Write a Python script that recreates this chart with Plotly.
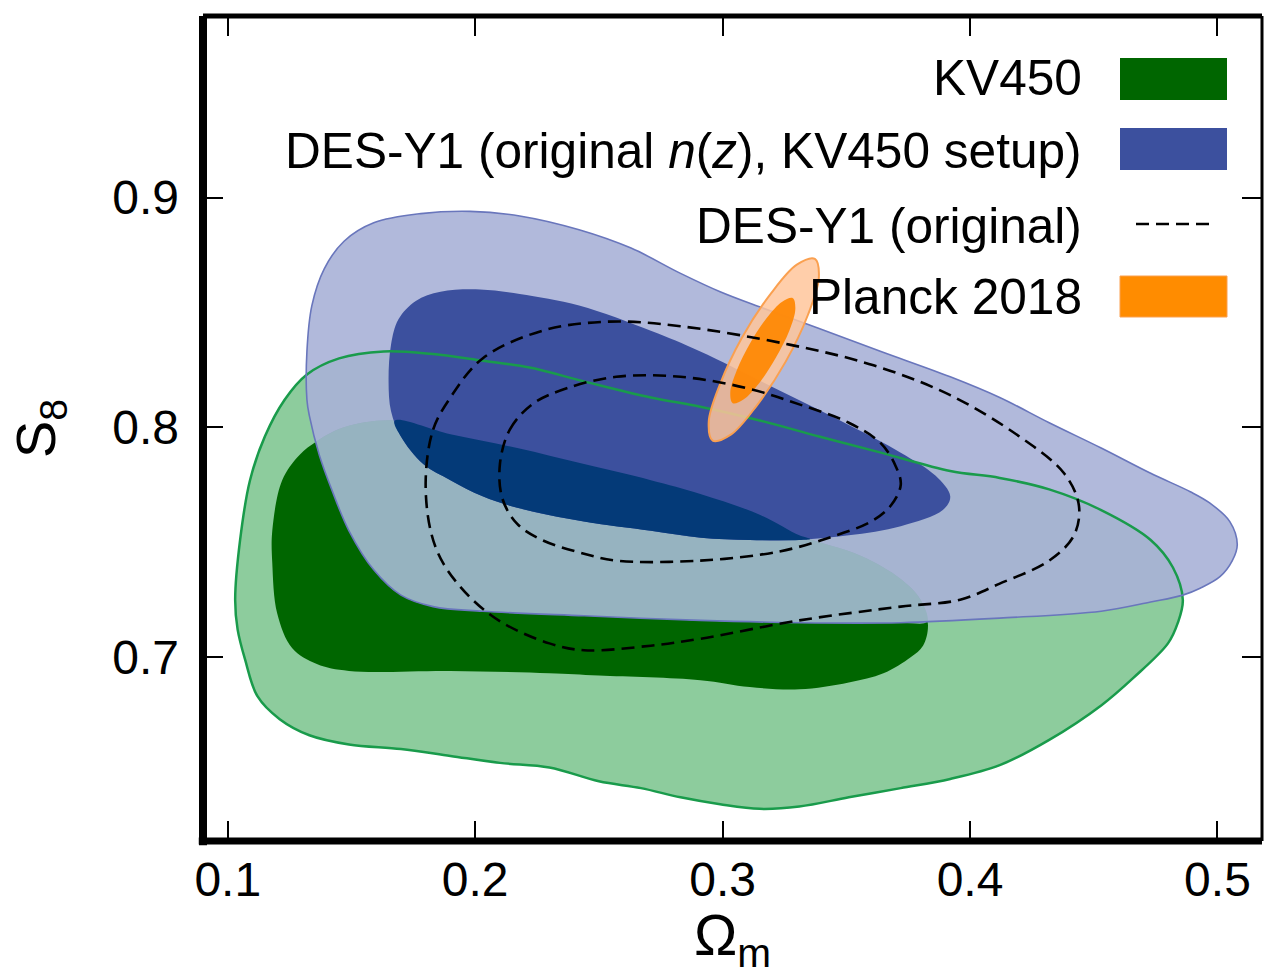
import plotly.graph_objects as go

# ---------------- data ----------------
X_RANGE = [0.09, 0.518]
Y_RANGE = [0.62, 0.979]
x_ticks = [0.1, 0.2, 0.3, 0.4, 0.5]
x_ticktext = ["0.1", "0.2", "0.3", "0.4", "0.5"]
y_ticks = [0.7, 0.8, 0.9]
y_ticktext = ["0.7", "0.8", "0.9"]

legend_labels = ["KV450",
                 "DES-Y1 (original <i>n</i>(<i>z</i>), KV450 setup)",
                 "DES-Y1 (original)",
                 "Planck 2018"]

# KV450 95% contour
kv_outer_x = [0.103, 0.105, 0.109, 0.115, 0.123, 0.132, 0.145, 0.163, 0.182, 0.203,
              0.222, 0.244, 0.271, 0.291, 0.315, 0.339, 0.364, 0.392, 0.412, 0.432,
              0.453, 0.473, 0.482, 0.486, 0.484, 0.480, 0.466, 0.453, 0.432, 0.412,
              0.392, 0.372, 0.351, 0.331, 0.315, 0.299, 0.283, 0.267, 0.250, 0.230,
              0.210, 0.190, 0.170, 0.149, 0.133, 0.121, 0.112, 0.107, 0.104]
kv_outer_y = [0.725, 0.751, 0.777, 0.796, 0.812, 0.823, 0.830, 0.833, 0.832, 0.829,
              0.826, 0.820, 0.813, 0.809, 0.803, 0.796, 0.789, 0.781, 0.778, 0.773,
              0.764, 0.751, 0.739, 0.725, 0.715, 0.706, 0.691, 0.679, 0.664, 0.653,
              0.647, 0.643, 0.639, 0.635, 0.634, 0.636, 0.639, 0.643, 0.646, 0.652,
              0.654, 0.657, 0.660, 0.662, 0.666, 0.673, 0.683, 0.699, 0.712]
# KV450 68% contour
kv_inner_x = [0.122, 0.129, 0.136, 0.147, 0.167, 0.190, 0.217, 0.244, 0.271, 0.291,
              0.315, 0.331, 0.356, 0.372, 0.380, 0.383, 0.381, 0.376, 0.365, 0.351,
              0.331, 0.311, 0.291, 0.250, 0.230, 0.190, 0.149, 0.136, 0.126, 0.120,
              0.118, 0.118]
kv_inner_y = [0.777, 0.788, 0.794, 0.800, 0.803, 0.797, 0.791, 0.784, 0.777, 0.771,
              0.762, 0.753, 0.744, 0.734, 0.725, 0.714, 0.705, 0.700, 0.693, 0.689,
              0.686, 0.687, 0.690, 0.692, 0.693, 0.694, 0.694, 0.697, 0.704, 0.719,
              0.741, 0.755]
# DES-Y1 (original n(z), KV450 setup) 95% contour
des_outer_x = [0.132, 0.132, 0.134, 0.139, 0.147, 0.159, 0.178, 0.198, 0.218, 0.242,
               0.263, 0.283, 0.299, 0.316, 0.339, 0.364, 0.392, 0.412, 0.432, 0.453,
               0.473, 0.489, 0.497, 0.505, 0.508, 0.506, 0.501, 0.493, 0.486, 0.473,
               0.453, 0.412, 0.372, 0.331, 0.291, 0.244, 0.203, 0.183, 0.170, 0.159,
               0.149, 0.142, 0.137, 0.133]
des_outer_y = [0.812, 0.833, 0.853, 0.869, 0.881, 0.889, 0.893, 0.894, 0.892, 0.886,
               0.878, 0.867, 0.859, 0.852, 0.843, 0.833, 0.822, 0.813, 0.802, 0.791,
               0.780, 0.772, 0.767, 0.759, 0.749, 0.742, 0.735, 0.730, 0.727, 0.724,
               0.720, 0.717, 0.715, 0.715, 0.716, 0.718, 0.720, 0.722, 0.727, 0.738,
               0.755, 0.773, 0.788, 0.805]
# DES-Y1 (original n(z), KV450 setup) 68% contour
des_inner_x = [0.165, 0.166, 0.169, 0.176, 0.186, 0.202, 0.218, 0.242, 0.271, 0.291,
               0.323, 0.351, 0.372, 0.386, 0.392, 0.389, 0.372, 0.351, 0.331, 0.311,
               0.291, 0.271, 0.244, 0.217, 0.203, 0.190, 0.179, 0.170, 0.166]
des_inner_y = [0.820, 0.836, 0.847, 0.855, 0.859, 0.860, 0.858, 0.853, 0.842, 0.833,
               0.816, 0.801, 0.789, 0.779, 0.770, 0.764, 0.757, 0.753, 0.751, 0.751,
               0.752, 0.755, 0.759, 0.765, 0.770, 0.777, 0.784, 0.796, 0.807]
# DES-Y1 (original) dashed contours
desorig_outer_x = [0.180, 0.183, 0.190, 0.203, 0.227, 0.254, 0.283, 0.327, 0.361, 0.392,
                   0.420, 0.438, 0.444, 0.442, 0.432, 0.412, 0.396, 0.372, 0.331, 0.291,
                   0.271, 0.244, 0.230, 0.211, 0.198, 0.187, 0.182]
desorig_outer_y = [0.777, 0.799, 0.813, 0.830, 0.842, 0.846, 0.844, 0.836, 0.827, 0.814,
                   0.796, 0.780, 0.766, 0.753, 0.742, 0.732, 0.725, 0.722, 0.716, 0.708,
                   0.705, 0.703, 0.706, 0.715, 0.726, 0.741, 0.755]
desorig_inner_x = [0.210, 0.214, 0.223, 0.237, 0.257, 0.283, 0.310, 0.331, 0.351, 0.364,
                   0.370, 0.372, 0.368, 0.360, 0.343, 0.323, 0.291, 0.257, 0.244, 0.227,
                   0.217, 0.211]
desorig_inner_y = [0.784, 0.799, 0.810, 0.817, 0.822, 0.822, 0.817, 0.810, 0.802, 0.793,
                   0.783, 0.775, 0.766, 0.759, 0.752, 0.746, 0.742, 0.742, 0.745, 0.751,
                   0.758, 0.769]
# Planck 2018 contours
planck_outer_x = [0.3373, 0.3389, 0.3345, 0.3255, 0.3138, 0.3033, 0.2960, 0.2944, 0.2989, 0.3078, 0.3195, 0.3300]
planck_outer_y = [0.8733, 0.8651, 0.8490, 0.8286, 0.8095, 0.7968, 0.7942, 0.8025, 0.8186, 0.8390, 0.8582, 0.8708]
planck_inner_x = [0.3284, 0.3294, 0.3270, 0.3215, 0.3146, 0.3084, 0.3041, 0.3031, 0.3057, 0.3110, 0.3179, 0.3241]
planck_inner_y = [0.8562, 0.8516, 0.8421, 0.8303, 0.8190, 0.8121, 0.8105, 0.8151, 0.8247, 0.8364, 0.8477, 0.8547]

# ---------------- styles ----------------
C_KV_LIGHT = "rgb(141,204,157)"
C_KV_EDGE = "rgb(25,155,75)"
C_KV_DARK = "rgb(0,102,0)"
C_DES_LIGHT = "rgba(168,177,215,0.9)"
C_DES_ON_KV = "rgb(150,179,192)"
C_DES_EDGE = "rgb(105,118,188)"
C_DES_DARK = "rgb(60,80,158)"
C_OVERLAP = "rgb(4,58,120)"
C_PL_LIGHT = "rgba(255,198,155,0.85)"
C_PL_EDGE = "rgb(250,160,80)"
C_PL_DARK = "rgba(255,135,0,0.92)"
FONT = "Liberation Sans, Arial, sans-serif"


def closed(xs, ys):
    return list(xs) + [xs[0]], list(ys) + [ys[0]]


def clip_convex(sx, sy, cx, cy):
    """Sutherland-Hodgman clip of polygon (sx,sy) by convex polygon (cx,cy)."""
    clip = list(zip(cx, cy))
    area = sum(a[0] * b[1] - b[0] * a[1] for a, b in zip(clip, clip[1:] + clip[:1]))
    sgn = 1.0 if area > 0 else -1.0

    def inside(p, a, b):
        return sgn * ((b[0] - a[0]) * (p[1] - a[1]) - (b[1] - a[1]) * (p[0] - a[0])) >= 0

    def inter(p, q, a, b):
        x1, y1 = p
        x2, y2 = q
        x3, y3 = a
        x4, y4 = b
        den = (x1 - x2) * (y3 - y4) - (y1 - y2) * (x3 - x4)
        t = ((x1 - x3) * (y3 - y4) - (y1 - y3) * (x3 - x4)) / den
        return (x1 + t * (x2 - x1), y1 + t * (y2 - y1))

    out = list(zip(sx, sy))
    for a, b in zip(clip, clip[1:] + clip[:1]):
        inp, out = out, []
        if not inp:
            break
        s = inp[-1]
        for e in inp:
            if inside(e, a, b):
                if not inside(s, a, b):
                    out.append(inter(s, e, a, b))
                out.append(e)
            elif inside(s, a, b):
                out.append(inter(s, e, a, b))
            s = e
    return [p[0] for p in out], [p[1] for p in out]


fig = go.Figure()


def add_fill(xs, ys, color):
    X, Y = closed(xs, ys)
    fig.add_trace(go.Scatter(x=X, y=Y, mode="lines", fill="toself", fillcolor=color,
                             line=dict(width=0, color=color, shape="spline", smoothing=1.0),
                             hoverinfo="skip", showlegend=False))


def add_line(xs, ys, color, width, dash="solid"):
    X, Y = closed(xs, ys)
    fig.add_trace(go.Scatter(x=X, y=Y, mode="lines",
                             line=dict(width=width, color=color, dash=dash,
                                       shape="spline", smoothing=1.0),
                             hoverinfo="skip", showlegend=False))


add_fill(kv_outer_x, kv_outer_y, C_KV_LIGHT)
add_fill(kv_inner_x, kv_inner_y, C_KV_DARK)
add_fill(des_outer_x, des_outer_y, C_DES_LIGHT)
t_x, t_y = clip_convex(kv_inner_x, kv_inner_y, des_outer_x, des_outer_y)
if t_x:
    add_fill(t_x, t_y, C_DES_ON_KV)
add_fill(des_inner_x, des_inner_y, C_DES_DARK)
ov_x, ov_y = clip_convex(kv_inner_x, kv_inner_y, des_inner_x, des_inner_y)
if ov_x:
    add_fill(ov_x, ov_y, C_OVERLAP)
add_line(kv_outer_x, kv_outer_y, C_KV_EDGE, 2.5)
add_line(des_outer_x, des_outer_y, C_DES_EDGE, 1.6)

# Planck
X, Y = closed(planck_outer_x, planck_outer_y)
fig.add_trace(go.Scatter(x=X, y=Y, mode="lines", fill="toself", fillcolor=C_PL_LIGHT,
                         line=dict(width=2, color=C_PL_EDGE, shape="spline", smoothing=1.0),
                         hoverinfo="skip", showlegend=False))
add_fill(planck_inner_x, planck_inner_y, C_PL_DARK)

add_line(desorig_outer_x, desorig_outer_y, "black", 2.6, dash="13px,7px")
add_line(desorig_inner_x, desorig_inner_y, "black", 2.6, dash="13px,7px")

# ---------------- legend (gnuplot style: text right-aligned, key sample on the right) ----------------
PL_L, PL_R, PL_T, PL_B = 203, 1262, 16, 841


def px(xp):
    return (xp - PL_L) / (PL_R - PL_L)


def py(yp):
    return (PL_B - yp) / (PL_B - PL_T)


rows_y = [78, 151, 226, 297]
annotations = []
for lab, ry in zip(legend_labels, rows_y):
    annotations.append(dict(xref="paper", yref="paper", x=px(1084), y=py(ry), text=lab,
                            showarrow=False, xanchor="right", yanchor="middle",
                            font=dict(family=FONT, size=49.6, color="black")))

shapes = [
    dict(type="rect", xref="paper", yref="paper", x0=px(1120), x1=px(1227), y0=py(100), y1=py(58),
         fillcolor=C_KV_DARK, line=dict(width=0), layer="above"),
    dict(type="rect", xref="paper", yref="paper", x0=px(1120), x1=px(1227), y0=py(170), y1=py(128),
         fillcolor=C_DES_DARK, line=dict(width=0), layer="above"),
    dict(type="line", xref="paper", yref="paper", x0=px(1136), x1=px(1210), y0=py(224), y1=py(224),
         line=dict(color="black", width=2.6, dash="13px,7px"), layer="above"),
    dict(type="rect", xref="paper", yref="paper", x0=px(1120), x1=px(1227), y0=py(317), y1=py(276),
         fillcolor="rgb(255,140,0)", line=dict(width=1, color=C_PL_EDGE), layer="above"),
    # gnuplot-like frame with heavier left/bottom borders
    dict(type="line", xref="paper", yref="paper", x0=0, x1=0, y0=-0.005, y1=1.0,
         line=dict(color="black", width=8), layer="above"),
    dict(type="line", xref="paper", yref="paper", x0=-0.004, x1=1.0, y0=0, y1=0,
         line=dict(color="black", width=7), layer="above"),
    dict(type="line", xref="paper", yref="paper", x0=0, x1=1.0, y0=1, y1=1,
         line=dict(color="black", width=5), layer="above"),
    dict(type="line", xref="paper", yref="paper", x0=1, x1=1, y0=0, y1=1,
         line=dict(color="black", width=3), layer="above"),
]

fig.update_layout(
    width=1266, height=976,
    margin=dict(l=PL_L, r=1266 - PL_R, t=PL_T, b=976 - PL_B),
    paper_bgcolor="white", plot_bgcolor="white",
    font=dict(family=FONT, color="black"),
    annotations=annotations, shapes=shapes,
    xaxis=dict(range=X_RANGE, tickvals=x_ticks, ticktext=x_ticktext,
               ticks="inside", ticklen=20, tickwidth=2, tickcolor="black", mirror="ticks",
               showline=False, showgrid=False, zeroline=False,
               tickfont=dict(family=FONT, size=48), ticklabelstandoff=6,
               title=dict(text="Ω<sub>m</sub>", font=dict(family=FONT, size=58), standoff=9)),
    yaxis=dict(range=Y_RANGE, tickvals=y_ticks, ticktext=y_ticktext,
               ticks="inside", ticklen=20, tickwidth=2, tickcolor="black", mirror="ticks",
               showline=False, showgrid=False, zeroline=False,
               tickfont=dict(family=FONT, size=48), ticklabelstandoff=23,
               title=dict(text="S<sub>8</sub>", font=dict(family=FONT, size=56), standoff=38)),
)

fig.write_html("out.html")
